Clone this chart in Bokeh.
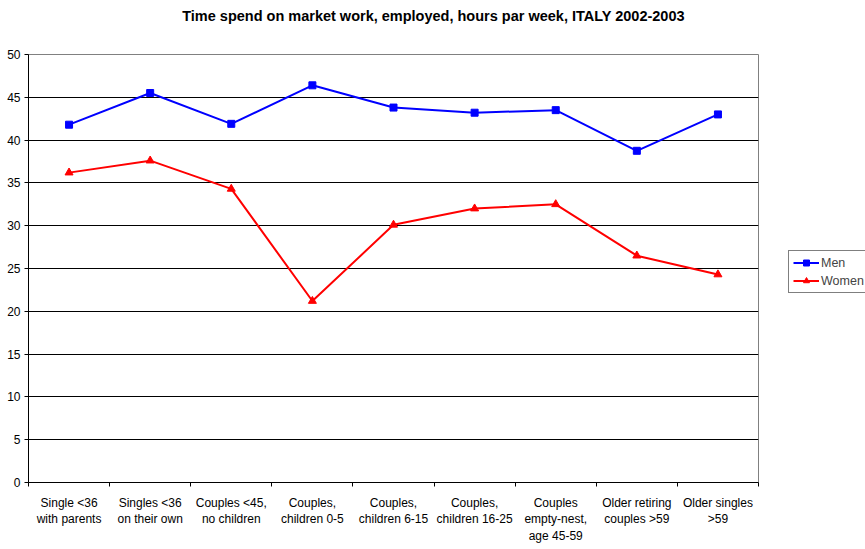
from bokeh.plotting import figure
from bokeh.layouts import row, column
from bokeh.models import (FixedTicker, Legend, LegendItem, Range1d, Label, ColumnDataSource)
from bokeh.embed import file_html
from bokeh.resources import INLINE

title_text = "Time spend on market work, employed, hours par week, ITALY 2002-2003"
categories = ["Single <36\nwith parents", "Singles <36\non their own", "Couples <45,\nno children",
              "Couples,\nchildren 0-5", "Couples,\nchildren 6-15", "Couples,\nchildren 16-25",
              "Couples\nempty-nest,\nage 45-59", "Older retiring\ncouples >59", "Older singles\n>59"]
men = [41.8, 45.5, 41.9, 46.4, 43.8, 43.2, 43.5, 38.75, 43.0]
women = [36.2, 37.6, 34.3, 21.2, 30.1, 32.0, 32.5, 26.5, 24.3]
y_ticks = list(range(0, 51, 5))

xs = [i + 0.5 for i in range(len(categories))]
src = ColumnDataSource(dict(x=xs, men=men, women=women))

FONT = "Liberation Sans"

# --- title strip ---
tf = figure(width=865, height=46, output_backend="svg", toolbar_location=None,
            x_range=Range1d(0, 1), y_range=Range1d(0, 1), x_axis_type=None, y_axis_type=None,
            min_border=0, min_border_left=28, min_border_right=107, min_border_top=0,
            min_border_bottom=0, outline_line_color=None)
tf.xgrid.grid_line_color = None
tf.ygrid.grid_line_color = None
tf.add_layout(Label(x=405, y=31, x_units="screen", y_units="screen", text=title_text,
                    text_align="center", text_baseline="middle", text_font=FONT,
                    text_font_size="14.5px", text_font_style="bold", text_color="black"))

# --- main chart ---
p = figure(width=788, height=503, output_backend="svg", toolbar_location=None,
           x_range=Range1d(0, len(categories)), y_range=Range1d(0, 50),
           min_border_left=28, min_border_right=30, min_border_bottom=67, min_border_top=8)
p.outline_line_color = "#808080"
p.background_fill_color = "white"

p.xgrid.grid_line_color = None
p.ygrid.ticker = FixedTicker(ticks=y_ticks)
p.ygrid.grid_line_color = "black"
p.ygrid.grid_line_width = 1

p.yaxis.ticker = FixedTicker(ticks=y_ticks)
p.yaxis.axis_line_color = "black"
p.yaxis.major_tick_line_color = "black"
p.yaxis.major_tick_in = 0
p.yaxis.major_tick_out = 4
p.yaxis.minor_tick_line_color = None
p.yaxis.major_label_text_font = FONT
p.yaxis.major_label_text_font_size = "12px"
p.yaxis.major_label_text_color = "black"
p.yaxis.major_label_standoff = 4

p.xaxis.ticker = FixedTicker(ticks=xs, minor_ticks=list(range(len(categories) + 1)))
p.xaxis.major_label_overrides = {x: c for x, c in zip(xs, categories)}
p.xaxis.axis_line_color = "black"
p.xaxis.major_tick_line_color = None
p.xaxis.minor_tick_line_color = "black"
p.xaxis.minor_tick_in = 0
p.xaxis.minor_tick_out = 4
p.xaxis.major_label_text_font = FONT
p.xaxis.major_label_text_font_size = "12px"
p.xaxis.major_label_text_color = "black"
p.xaxis.major_label_standoff = 7

p.line("x", "men", source=src, line_color="blue", line_width=2)
p.scatter("x", "men", source=src, marker="square", size=7, color="blue")
p.line("x", "women", source=src, line_color="red", line_width=2)
p.scatter("x", "women", source=src, marker="triangle", size=8, color="red")

# --- narrow figure holding only the legend (its sample glyphs lie outside its ranges) ---
lf = figure(width=77, height=503, output_backend="svg", toolbar_location=None,
            x_range=Range1d(0, 1), y_range=Range1d(0, 1), x_axis_type=None, y_axis_type=None,
            min_border=0, min_border_left=0, min_border_right=0, min_border_top=0,
            min_border_bottom=0, outline_line_color=None)
lf.xgrid.grid_line_color = None
lf.ygrid.grid_line_color = None
empty = ColumnDataSource(dict(x=[-5.0, -4.0], men=[-5.0, -4.0], women=[-5.0, -4.0]))
g1 = lf.line("x", "men", source=empty, line_color="blue", line_width=2)
g2 = lf.scatter("x", "men", source=empty, marker="square", size=7, color="blue")
g3 = lf.line("x", "women", source=empty, line_color="red", line_width=2)
g4 = lf.scatter("x", "women", source=empty, marker="triangle", size=8, color="red")

legend = Legend(items=[LegendItem(label="Men", renderers=[g1, g2]),
                       LegendItem(label="Women", renderers=[g3, g4])],
                location=(0, 189), border_line_color="black", border_line_width=1,
                label_text_font=FONT, label_text_font_size="12.5px", label_height=15,
                glyph_height=15, glyph_width=26, spacing=3, padding=4, margin=0,
                label_standoff=2, background_fill_alpha=1)
lf.add_layout(legend, "center")

layout = column(tf, row(p, lf, spacing=0), spacing=0)
open("out.html", "w").write(file_html(layout, INLINE))
